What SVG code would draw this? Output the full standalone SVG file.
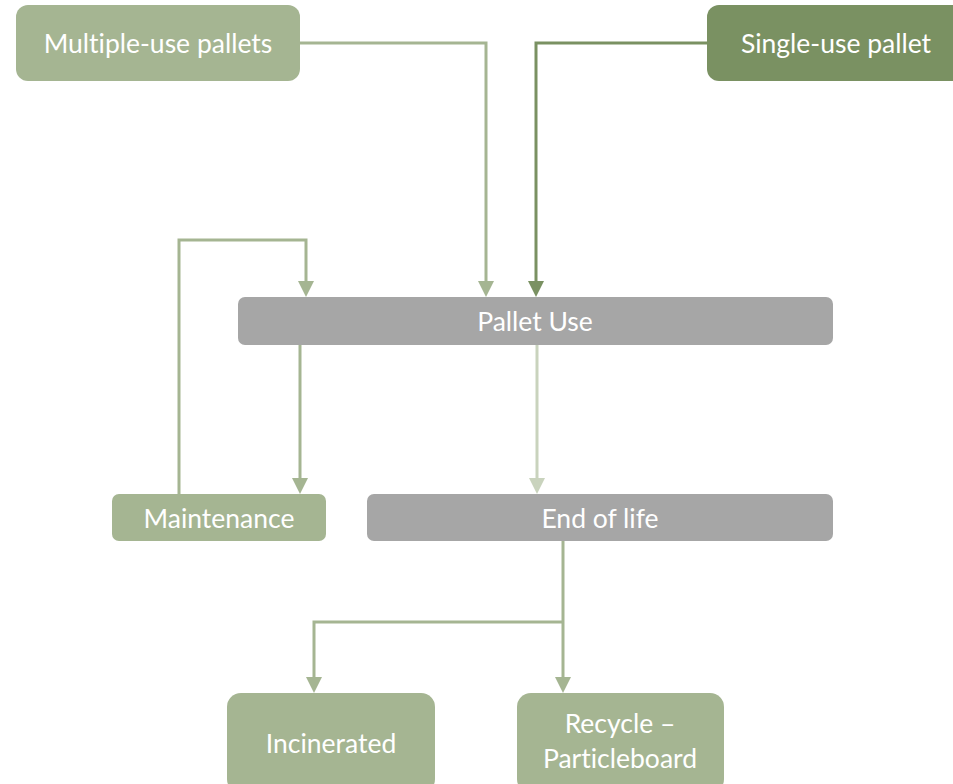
<svg xmlns="http://www.w3.org/2000/svg" width="953" height="784" viewBox="0 0 953 784">
<style>
.g{fill:#A5B592}
.d{fill:#7A9162}
.y{fill:#A6A6A6}
.t{font-family:Lato,"Open Sans","Liberation Sans",sans-serif;font-size:26.5px;fill:#FFFFFF;text-anchor:middle;dominant-baseline:central;font-variant-ligatures:none}
.c{fill:none;stroke:#A5B592;stroke-width:3}
</style>
<g id="connectors">
<path class="c" d="M300,43 H486 V284"/>
<path d="M478,281 L494,281 L486,297 Z" fill="#A5B592"/>
<path d="M707,43 H536 V284" fill="none" stroke="#7A9162" stroke-width="3"/>
<path d="M528,281 L544,281 L536,297 Z" fill="#7A9162"/>
<path class="c" d="M179,494 V240 H306 V284"/>
<path d="M298,281 L314,281 L306,297 Z" fill="#A5B592"/>
<path class="c" d="M300,345 V480"/>
<path d="M292,478 L308,478 L300,494 Z" fill="#A5B592"/>
<path d="M537,345 V480" fill="none" stroke="#C9D3BD" stroke-width="3"/>
<path d="M529,478 L545,478 L537,494 Z" fill="#C9D3BD"/>
<path class="c" d="M563,541 V679 M563,622 H314 V679"/>
<path d="M555,677 L571,677 L563,693 Z" fill="#A5B592"/>
<path d="M306,677 L322,677 L314,693 Z" fill="#A5B592"/>
</g>
<g id="multiple-use">
<rect class="g" x="16" y="5" width="284" height="76" rx="12"/>
<text class="t" x="158" y="43">Multiple-use pallets</text>
</g>
<g id="single-use">
<rect class="d" x="707" y="5" width="260" height="76" rx="12"/>
<text class="t" x="836" y="43">Single-use pallet</text>
</g>
<g id="pallet-use">
<rect class="y" x="238" y="297" width="595" height="48" rx="7"/>
<text class="t" x="535" y="321">Pallet Use</text>
</g>
<g id="maintenance">
<rect class="g" x="112" y="494" width="214" height="47" rx="7"/>
<text class="t" x="219" y="518">Maintenance</text>
</g>
<g id="end-of-life">
<rect class="y" x="367" y="494" width="466" height="47" rx="7"/>
<text class="t" x="600" y="518">End of life</text>
</g>
<g id="incinerated">
<rect class="g" x="227" y="693" width="208" height="100" rx="14"/>
<text class="t" x="331" y="743">Incinerated</text>
</g>
<g id="recycle">
<rect class="g" x="517" y="693" width="207" height="100" rx="14"/>
<text class="t" x="620" y="723">Recycle –</text>
<text class="t" x="620" y="758">Particleboard</text>
</g>
</svg>
